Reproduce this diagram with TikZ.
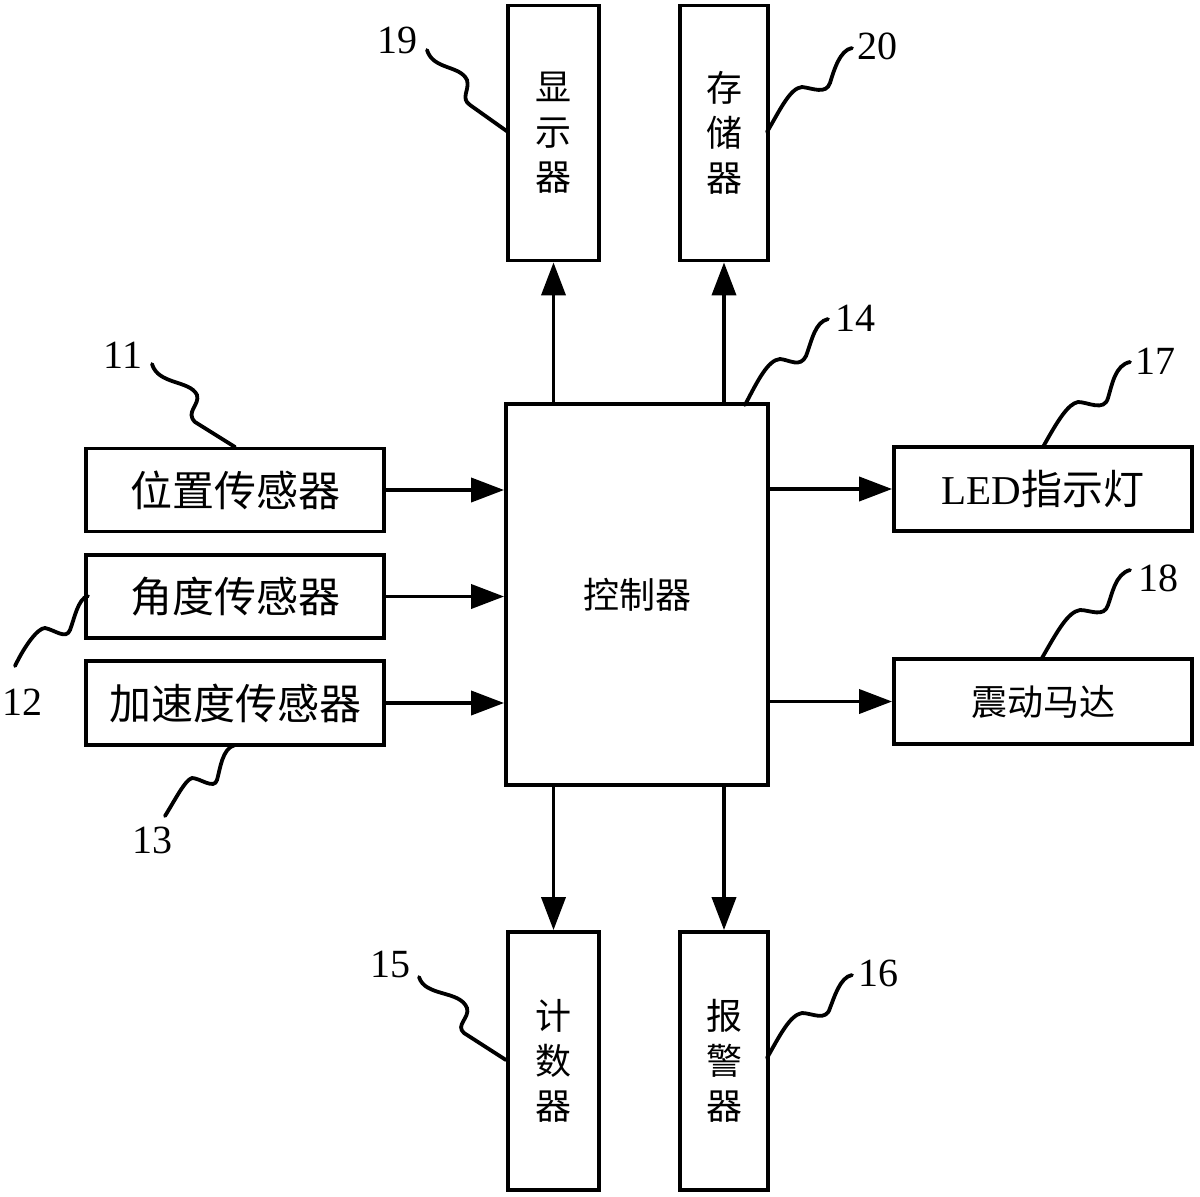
\documentclass[tikz,border=0pt]{standalone}
\usepackage{fontspec}
\setmainfont{Liberation Serif}
\newfontfamily\cjk{Noto Sans CJK SC}
\usetikzlibrary{arrows.meta}
\begin{document}
\begin{tikzpicture}[x=1pt,y=-1pt,
  box/.style={draw,line width=3.8pt,inner sep=0pt,rectangle},
  hbox/.style={box,minimum width=298pt,font=\cjk\fontsize{42}{42}\selectfont},
  vbox/.style={box,align=center,font=\cjk\fontsize{36}{45}\selectfont},
  arr/.style={line width=3.8pt,-{Triangle[length=33pt,width=24pt]}},
  lead/.style={line width=3.8pt,line cap=round},
  num/.style={font=\fontsize{40}{40}\selectfont,inner sep=0pt}]
\useasboundingbox (0,0) rectangle (1200,1197);
% boxes
\node[vbox,minimum width=91pt,minimum height=255pt] (disp) at (553.5,133) {显\\示\\器};
\node[vbox,minimum width=88pt,minimum height=255pt] (stor) at (724,133) {存\\储\\器};
\node[box,minimum width=262pt,minimum height=381pt,font=\cjk\fontsize{36}{36}\selectfont] (ctrl) at (637,594.5) {控制器};
\node[hbox,minimum height=83pt] (pos) at (235,490) {位置传感器};
\node[hbox,minimum height=83pt] (ang) at (235,596.5) {角度传感器};
\node[hbox,minimum height=84pt] (acc) at (235,703) {加速度传感器};
\node[hbox,minimum height=84pt,font=\fontsize{41}{41}\selectfont] (led) at (1043,489) {LED{\cjk 指示灯}};
\node[hbox,minimum height=85pt,font=\cjk\fontsize{36}{36}\selectfont] (motor) at (1043,701.5) {震动马达};
\node[vbox,minimum width=91pt,minimum height=258pt] (cnt) at (553.5,1061) {计\\数\\器};
\node[vbox,minimum width=88pt,minimum height=258pt] (alarm) at (724,1061) {报\\警\\器};
% arrows
\draw[arr] (pos.east) -- (ctrl.west |- pos.east);
\draw[arr] (ang.east) -- (ctrl.west |- ang.east);
\draw[arr] (acc.east) -- (ctrl.west |- acc.east);
\draw[arr] (ctrl.east |- led.west) -- (led.west);
\draw[arr] (ctrl.east |- motor.west) -- (motor.west);
\draw[arr] (ctrl.north -| disp.south) -- (disp.south);
\draw[arr] (ctrl.north -| stor.south) -- (stor.south);
\draw[arr] (ctrl.south -| cnt.north) -- (cnt.north);
\draw[arr] (ctrl.south -| alarm.north) -- (alarm.north);
% labels
\node[num] (n19) at (397,40) {19};
\node[num] (n20) at (877,46) {20};
\node[num] (n14) at (855,318) {14};
\node[num] (n11) at (123,355) {11};
\node[num] (n17) at (1155,361) {17};
\node[num] (n12) at (22,702) {12};
\node[num] (n18) at (1158,578) {18};
\node[num] (n13) at (152,840) {13};
\node[num] (n15) at (390,964) {15};
\node[num] (n16) at (878,973) {16};
% leaders
\draw[lead] (427,50) .. controls (433,70) and (460,65) .. (467,80) .. controls (470,90) and (460,98) .. (470,105) -- (508,132);
\draw[lead] (852,48) .. controls (840,50) and (834,70) .. (830,83) .. controls (826,95) and (812,88) .. (802,87) .. controls (790,88) and (780,110) .. (767,132);
\draw[lead] (828,319) .. controls (815,322) and (812,340) .. (806,356) .. controls (800,368) and (790,360) .. (780,359) .. controls (768,360) and (758,380) .. (745,405);
\draw[lead] (152,364) .. controls (158,385) and (190,380) .. (197,395) .. controls (200,405) and (185,412) .. (195,422) -- (235,447);
\draw[lead] (1130,362) .. controls (1115,365) and (1112,385) .. (1108,398) .. controls (1104,412) and (1088,402) .. (1078,402) .. controls (1068,404) and (1058,420) .. (1043,447);
\draw[lead] (88,596) .. controls (78,598) and (74,620) .. (70,630) .. controls (66,640) and (55,630) .. (45,628) .. controls (38,628) and (25,645) .. (15,666);
\draw[lead] (1130,570) .. controls (1115,574) and (1112,595) .. (1108,605) .. controls (1104,618) and (1090,610) .. (1080,610) .. controls (1068,612) and (1058,630) .. (1042,658);
\draw[lead] (235,745) .. controls (222,748) and (220,770) .. (217,780) .. controls (214,790) and (200,778) .. (192,778) .. controls (185,780) and (175,800) .. (165,816);
\draw[lead] (419,977) .. controls (425,997) and (460,990) .. (467,1008) .. controls (470,1018) and (455,1025) .. (464,1033) -- (506,1060);
\draw[lead] (852,975) .. controls (840,977) and (834,998) .. (830,1008) .. controls (826,1022) and (812,1013) .. (802,1013) .. controls (790,1015) and (780,1035) .. (767,1058);
\end{tikzpicture}
\end{document}
